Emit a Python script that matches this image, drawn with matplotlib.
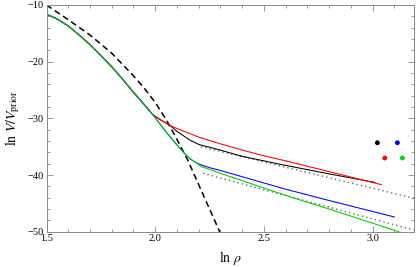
import matplotlib
matplotlib.use('Agg')
import matplotlib.pyplot as plt
from matplotlib.ticker import MultipleLocator

plt.rcParams['font.family'] = ['Liberation Serif', 'DejaVu Serif']
plt.rcParams['mathtext.fontset'] = 'stix'

# shared start of the four solid curves
head_x = [1.50, 1.55, 1.60, 1.65, 1.70, 1.75, 1.80, 1.85, 1.90, 1.95, 1.99]
head_y = [-11.6, -12.5, -13.7, -15.3, -17.0, -18.9, -20.9, -23.1, -25.4, -27.6, -29.4]

# red curve after splitting off
red_x = [2.03, 2.07, 2.12, 2.16, 2.20, 2.30, 2.40, 2.50, 2.60, 2.80, 3.04]
red_y = [-30.4, -31.3, -32.1, -32.7, -33.3, -34.5, -35.6, -36.6, -37.5, -39.4, -41.7]

# black curve (follows red to about 2.07)
black_x = [2.03, 2.07, 2.10, 2.158, 2.20, 2.25, 2.30, 2.40, 2.50, 2.60, 2.80, 3.01]
black_y = [-30.4, -31.3, -32.3, -33.8, -34.6, -35.1, -35.6, -36.7, -37.5, -38.3, -39.8, -41.3]

# blue and green share the steep part
steep_x = [2.05, 2.10, 2.128, 2.15, 2.174, 2.19]
steep_y = [-32.4, -34.7, -35.9, -36.8, -37.5, -37.85]

blue_x = [2.21, 2.25, 2.30, 2.40, 2.50, 2.60, 2.80, 3.10]
blue_y = [-38.2, -38.7, -39.2, -40.3, -41.4, -42.5, -44.5, -47.4]

green_x = [2.21, 2.25, 2.30, 2.40, 2.50, 2.60, 2.80, 3.12]
green_y = [-38.5, -39.0, -39.7, -41.0, -42.3, -43.6, -46.0, -50.0]

# dashed black curve
dash_x = [1.50, 1.60, 1.70, 1.80, 1.90, 1.95, 2.00, 2.05, 2.10, 2.15, 2.20, 2.25, 2.30]
dash_y = [-10.0, -12.6, -15.3, -18.5, -22.5, -24.7, -27.2, -30.2, -33.7, -37.4, -41.7, -46.0, -50.3]

# dotted straight lines
dot_hi_x = [2.21, 3.19]
dot_hi_y = [-35.0, -44.1]
dot_lo_x = [2.22, 3.19]
dot_lo_y = [-39.7, -49.7]

# the four dots at the right
pt_x = [3.022, 3.114, 3.056, 3.137]
pt_y = [-34.3, -34.3, -37.0, -37.0]
pt_c = ['black', 'blue', 'red', '#00d000']

fig = plt.figure(figsize=(4.16, 2.67), dpi=100)
ax = fig.add_axes([0.1118, 0.1322, 0.8832, 0.8491])

ax.plot(dash_x, dash_y, color='black', lw=1.1, dashes=(4, 2.5))
ax.plot(dot_hi_x, dot_hi_y, color='#666666', lw=1.0, linestyle=(0, (1, 2.2)))
ax.plot(dot_lo_x, dot_lo_y, color='#666666', lw=1.0, linestyle=(0, (1, 2.2)))

ax.plot(head_x + black_x, head_y + black_y, color='black', lw=0.75)
ax.plot(head_x + red_x, head_y + red_y, color='red', lw=0.75)
ax.plot(head_x + steep_x + blue_x, head_y + steep_y + blue_y, color='blue', lw=0.75)
ax.plot(head_x + steep_x + green_x, head_y + steep_y + green_y, color='#00d000', lw=0.75)

ax.scatter(pt_x, pt_y, c=pt_c, s=6, zorder=5)

ax.set_xlim(1.5, 3.19)
ax.set_ylim(-50, -10)
ax.xaxis.set_major_locator(MultipleLocator(0.5))
ax.xaxis.set_minor_locator(MultipleLocator(0.1))
ax.yaxis.set_major_locator(MultipleLocator(10))
ax.yaxis.set_minor_locator(MultipleLocator(2))
ax.tick_params(which='both', direction='in', top=True, right=True, color='#888888',
               labelsize=7.5, width=0.6)
ax.tick_params(which='major', length=4, pad=2)
ax.tick_params(which='minor', length=2)
for s in ax.spines.values():
    s.set_color('#888888')
    s.set_linewidth(0.7)

ax.set_xlabel(r'$\ln\,\rho$', fontsize=10, labelpad=4)
ax.set_ylabel(r'$\ln\,V/V_{\rm prior}$', fontsize=10, labelpad=4)

fig.savefig('out.png', dpi=100)
